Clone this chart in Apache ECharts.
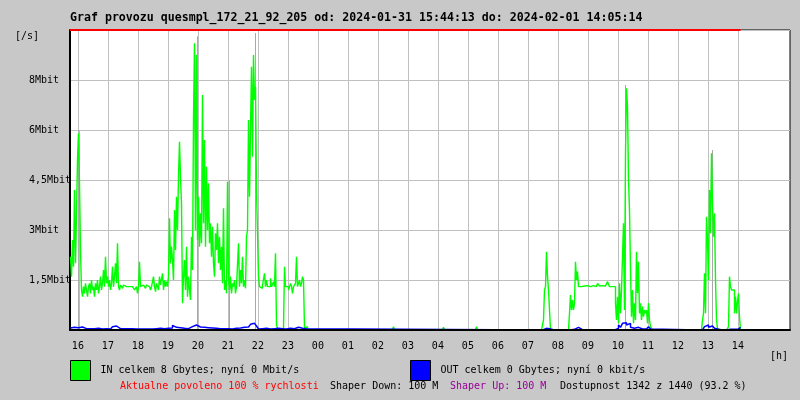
<!DOCTYPE html>
<html><head><meta charset="utf-8">
<script src="https://cdn.jsdelivr.net/npm/echarts@6/dist/echarts.min.js"></script>
<style>html,body{margin:0;padding:0;background:#c8c8c8}#c{width:800px;height:400px}</style>
</head><body><div id="c"></div>
<script>
// ---- texts ----
const titleText = 'Graf provozu quesmpl_172_21_92_205 od: 2024-01-31 15:44:13 do: 2024-02-01 14:05:14';
const inName = 'IN celkem 8 Gbytes; nyní 0 Mbit/s';
const outName = 'OUT celkem 0 Gbytes; nyní 0 kbit/s';
const chartStart = '15:44:13';
const chartEnd = '14:05:14';
const spanMinutes = 1440;

// ---- ticks ----
const hourLabels = ['16','17','18','19','20','21','22','23','00','01','02','03','04','05','06','07','08','09','10','11','12','13','14'];
const yTickValues = [1.5, 3, 4.5, 6, 7.5];
const yTickLabels = ['1,5Mbit', '3Mbit', '4,5Mbit', '6Mbit', '8Mbit'];
const yMax = 9;
const limitValue = 9;

// ---- IN (Mbit/s), one sample per 2 minutes ----
const inStep = 2;
const inA_start = '15:45:13';
const inA = [
 2.2,1.6,2.7,1.9,4.2,2.0,3.5,5.1,5.9,4.4,2.4,1.2,1.0,
 1.3,1.1,1.4,1.2,1.0,1.3,1.4,1.1,1.5,1.2,1.3,1.0,1.4,1.2,1.5,1.1,1.3,1.6,1.2,1.4,1.8,1.3,2.2,1.4,1.6,
 1.3,1.5,1.2,1.4,1.9,1.3,1.6,2.0,1.4,2.6,1.3,1.2,1.35,
 1.3,1.25,1.35,1.3,1.3,1.25,1.3,1.3,1.25,1.3,1.3,1.35,1.3,1.2,1.15,1.3,1.1,1.3,
 2.05,1.3,1.25,1.35,1.3,1.3,1.25,1.35,1.3,1.3,1.35,1.2,1.3,1.35,1.6,1.3,1.15,1.4,1.3,1.2,1.6,1.35,1.4,1.7,1.2,1.5,1.3,1.45,1.3,
 1.6,3.35,2.0,2.5,2.1,1.5,3.6,2.4,4.0,3.0,4.6,5.65,4.6,3.8,0.8,1.6,2.1,1.2,2.5,1.0,1.6,1.2,0.9,
 2.8,1.8,6.35,8.6,3.0,8.25,2.7,4.0,2.5,3.5,2.6,7.05,3.2,5.7,2.5,4.9,3.0,4.4,2.6,3.2,2.2,3.1,2.0,
 1.6,2.9,2.4,3.2,2.0,2.8,1.8,2.5,1.4,3.65,1.2,1.5,1.1,4.45,1.5,
 1.2,1.6,1.1,1.4,1.3,1.5,1.1,1.3,1.25,2.6,1.3,1.8,1.4,2.2,1.3,1.5,1.25,2.8,
 3.0,6.3,4.0,6.0,7.9,5.2,8.25,6.9,7.3,4.2,2.9,1.6,
 1.3,1.3,1.25,1.35,1.3,1.7,1.3,1.5,1.3,1.3,1.3,1.55,1.3,1.3,1.45,1.3,2.3,
 0.15,0.05,0.03,0.03,0.03,0.03,0.05,0.1,
 1.9,1.3,1.35,1.3,1.2,1.3,1.4,1.3,1.1,1.3,1.3,1.4,2.2,1.3,1.35,1.5,1.3,1.4,1.6,1.5,
 0.05,0.02,0.1,0.02,0
];
const inBlipTimes = ['02:31:13', '04:11:13', '04:45:13', '05:17:13', '11:37:13'];
const inBlipValues = [0.1, 0.08, 0.03, 0.1, 0.05];
const inC_start = '07:27:13';
const inC = [
 0,0,0.3,1.2,1.3,2.35,1.6,1.2,1.25,0,
 0,0,0,0,0,0,0,0,0,0,0,0,0,0,0,0,0,
 0,0.5,1.05,0.6,0.9,0.6,0.8,2.05,1.5,1.75,1.3,1.35,
 1.3,1.35,1.3,1.32,1.28,1.3,1.33,1.3,1.35,1.3,1.3,1.28,1.33,1.3,1.32,1.3,1.35,1.4,1.4,1.32,1.3,1.33,1.3,1.3,1.32,1.3,1.35,1.45,1.4,1.3,1.28,1.3,1.3,1.32,1.3,
 0.8,0.3,1.0,0.2,1.4,0.5,1.2,2.2,3.2,0.6,5.3,7.25,6.7,4.5,3.6,1.8,0.4,1.2,0.2,0.8,0.3,2.35,1.1,2.05,0.5,0.8,0.3,0.7,0.4,0.6,0.5,0.6,0.2,0.8,0.3,0.1,0.05,0
];
const inD_start = '12:41:13';
const inD = [
 0.05,0,0,0.05,0.3,0.5,1.7,0.5,3.4,2.7,1.5,4.2,2.9,5.3,3.8,2.8,3.5,1.5,0.3,0.05,0,
 0,0,0,0,0,0,0,
 0.05,0.03,0.1,1.6,1.3,1.2,1.2,1.2,0.5,1.0,0.5,0.85,1.1,0.4,0
];

// ---- grey peak traces visible behind the IN spikes ----
const peakTimes = ['16:02:13', '19:59:13', '21:03:13', '21:55:13', '10:15:13', '13:09:13'];
const peakValues = [6.0, 8.8, 4.5, 8.9, 7.35, 5.4];

// ---- OUT (Mbit/s), one sample per 4 minutes ----
const outStep = 4;
const outA_start = '15:45:13';
const outA = [
 0.06,0.08,0.04,0.07,0.05,0.09,0.03,0.04,0.03,0.04,
 0.06,0.04,0.03,0.05,0.04,0.03,0.06,0.04,0.04,0.03,
 0.05,0.1,0.12,0.06,0.04,0.03,0.04,0.03,0.04,0.03,
 0.04,0.04,0.03,0.04,0.03,0.04,0.03,0.04,0.03,0.04,
 0.03,0.04,0.04,0.03,0.05,0.07,0.04,0.06,0.05,0.09,
 0.06,0.14,0.08,0.12,0.07,0.1,0.05,0.08,0.04,0.06,
 0.1,0.07,0.15,0.2,0.09,0.06,0.08,0.05,0.07,0.05,
 0.06,0.04,0.05,0.06,0.04,0.05,0.04,0.05,0.04,0.05,
 0.03,0.02,0.05,0.03,0.06,0.05,0.08,0.1,0.09,0.14,
 0.17,0.2,0.24,0.12,0.03,0.04,0.04,0.05,0.04,0.03,
 0.04,0.04,0.03,0.05,0.1,0.04,0.04,0.03,0.04,0.05,
 0.04,0.04,0.05,0.08,0.04,0.05,0.07,0.04,0
];
const outC_start = '07:29:13';
const outC = [
 0,0.05,0.1,0.03,0,0,0,0,0,0,0,0,0,0,0.06,0.02,0.03,0.08,0.02,0.01,
 0,0,0,0,0,0,0,0,0,0,0,0,0,0,0,0,0,
 0.05,0.15,0.08,0.2,0.22,0.15,0.2,0.08,0.05,0.03,0.08,0.1,0.03,0.02,0.03,0.05,0.1,0.03,0
];
const outD_start = '12:41:13';
const outD = [0,0,0.03,0.1,0.15,0.08,0.12,0.1,0.05,0.02,0,0,0,0,0,0.02,0.03,0.02,0.02,0.03,0.08,0];

// ---- helpers ----
function clockToSec(c){ const p = c.split(':').map(Number); return p[0]*3600 + p[1]*60 + (p[2]||0); }
const startSec = clockToSec(chartStart);
function minFromStart(c){ let d = clockToSec(c) - startSec; if (d < -3600) d += 86400; return d/60; }
function seg(start, step, vals){ const t0 = minFromStart(start); return vals.map((v,i)=>[t0 + i*step, v]); }

const blipPts = [];
inBlipTimes.forEach((c,i)=>{ const t = minFromStart(c); blipPts.push([t-inStep,0],[t,inBlipValues[i]],[t+inStep,0]); });
const inData = [].concat(seg(inA_start,inStep,inA), blipPts, seg(inC_start,inStep,inC), seg(inD_start,inStep,inD)).sort((a,b)=>a[0]-b[0]);
const outData = [].concat(seg(outA_start,outStep,outA), seg(outC_start,outStep,outC), seg(outD_start,outStep,outD)).sort((a,b)=>a[0]-b[0]);
const peakData = [];
peakTimes.forEach((c,i)=>{ const t = minFromStart(c); peakData.push([t-0.01,0],[t,peakValues[i]],[t+0.01,0]); });
const endMin = minFromStart(chartEnd);
const xTickValues = hourLabels.map(h => minFromStart(h + ':00:00'));
function hourLabel(v){ for (let i=0;i<xTickValues.length;i++){ if (Math.abs(xTickValues[i]-v) < 0.01) return hourLabels[i]; } return ''; }
function yLabel(v){ for (let i=0;i<yTickValues.length;i++){ if (Math.abs(yTickValues[i]-v) < 1e-6) return yTickLabels[i]; } return ''; }

const FONT = 'DejaVu Sans Mono';
const small = {fontFamily: FONT, fontSize: 10, color: '#000', fontWeight: 'normal'};

const chart = echarts.init(document.getElementById('c'), null, {renderer: 'canvas'});
chart.setOption({
  animation: false,
  backgroundColor: '#c8c8c8',
  textStyle: {fontFamily: FONT},
  title: [
    {text: titleText, left: 70, top: 12, padding: 0, textStyle: {fontFamily: FONT, fontSize: 11.6, fontWeight: 'bold', color: '#000'}},
    {text: '[/s]', left: 15, top: 31, padding: 0, textStyle: small},
    {text: '[h]', left: 770, top: 351, padding: 0, textStyle: small},
    {text: 'Aktualne povoleno 100 % rychlosti', left: 120, top: 381, padding: 0, textStyle: Object.assign({}, small, {color: '#ff0000'})},
    {text: 'Shaper Down: 100 M', left: 330, top: 381, padding: 0, textStyle: small},
    {text: 'Shaper Up: 100 M', left: 450, top: 381, padding: 0, textStyle: Object.assign({}, small, {color: '#990099'})},
    {text: 'Dostupnost 1342 z 1440 (93.2 %)', left: 560, top: 381, padding: 0, textStyle: small}
  ],
  legend: [
    {data: [inName], left: 70, top: 360, padding: 0, icon: 'rect', itemWidth: 20, itemHeight: 20, selectedMode: false,
     itemStyle: {borderColor: '#000', borderWidth: 1}, textStyle: Object.assign({}, small, {padding: [0,0,5,5]})},
    {data: [outName], left: 410, top: 360, padding: 0, icon: 'rect', itemWidth: 20, itemHeight: 20, selectedMode: false,
     itemStyle: {borderColor: '#000', borderWidth: 1}, textStyle: Object.assign({}, small, {padding: [0,0,5,5]})}
  ],
  grid: {left: 70, top: 30, width: 720, height: 300, show: true, backgroundColor: '#fff', borderColor: '#000', borderWidth: 1},
  xAxis: [
    {type: 'value', min: 0, max: spanMinutes, position: 'bottom', z: 10,
     axisLine: {show: true, onZero: false, lineStyle: {color: '#000', width: 2}},
     axisTick: {show: false, customValues: xTickValues},
     axisLabel: Object.assign({customValues: xTickValues, formatter: hourLabel, margin: 11}, small),
     splitLine: {show: false}},
    {type: 'value', min: 0, max: spanMinutes, position: 'top',
     axisLine: {show: false}, axisTick: {show: false, customValues: xTickValues}, axisLabel: {show: false},
     splitLine: {show: true, lineStyle: {color: '#c0c0c0', width: 1}}}
  ],
  yAxis: {type: 'value', min: 0, max: yMax, interval: 1.5,
    axisLine: {show: true, lineStyle: {color: '#000', width: 2}}, axisTick: {show: false},
    axisLabel: Object.assign({align: 'left', margin: 41, formatter: yLabel}, small),
    splitLine: {show: true, lineStyle: {color: '#c0c0c0', width: 1}}},
  series: [
    {name: 'peak', type: 'line', data: peakData, symbol: 'none', z: 2, silent: true,
     lineStyle: {color: '#a8a8a8', width: 1}, itemStyle: {color: '#a8a8a8'}},
    {name: inName, type: 'line', data: inData, step: 'end', symbol: 'none', z: 3,
     lineStyle: {color: '#00ff00', width: 1.4}, itemStyle: {color: '#00ff00'}},
    {name: outName, type: 'line', data: outData, step: 'end', symbol: 'none', z: 4,
     lineStyle: {color: '#0000ff', width: 1.5}, itemStyle: {color: '#0000ff'}},
    {name: 'limit', type: 'line', data: [[0, limitValue], [endMin, limitValue]], symbol: 'none', clip: false, z: 6, silent: true,
     lineStyle: {color: '#ff0000', width: 2}, itemStyle: {color: '#ff0000'}}
  ]
});
</script></body></html>
